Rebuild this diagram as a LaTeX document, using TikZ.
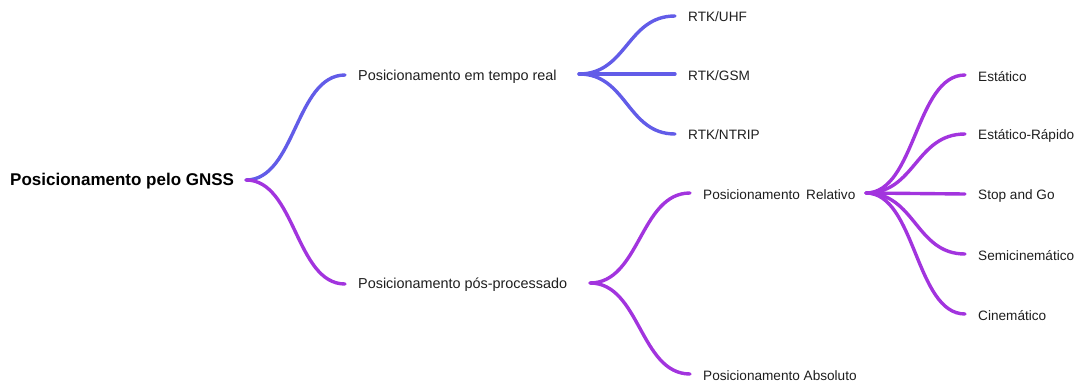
\documentclass[tikz,border=0pt]{standalone}
\usepackage{fontspec}
\setmainfont{Liberation Sans}
\usetikzlibrary{calc}
\definecolor{rtblue}{RGB}{98,92,232}
\definecolor{ppurple}{RGB}{162,52,222}
\definecolor{txt}{RGB}{30,30,30}
\tikzset{
  lbl/.style={anchor=west, inner sep=0pt, text=txt, font=\fontsize{13.6}{16}\selectfont},
  midlbl/.style={lbl, font=\fontsize{14.4}{17}\selectfont},
  rootlbl/.style={anchor=west, inner sep=0pt, text=black, font=\bfseries\fontsize{17}{20}\selectfont},
  branch/.style={line width=3.4pt, line cap=round},
}
% S-shaped link with horizontal tangents at both ends
\newcommand{\slink}[3]{%
  \draw[branch,#1] (#2) .. controls ($(#2)!0.5!(#2-|#3)$) and ($(#3)!0.5!(#3-|#2)$) .. (#3);}
\begin{document}
\begin{tikzpicture}[x=1pt,y=-1pt]
\useasboundingbox (0,0) rectangle (1076,383);
% labels
\node[rootlbl] (root) at (10,181) {Posicionamento pelo GNSS};
\node[midlbl] (rt) at (358,77) {Posicionamento em tempo real};
\node[midlbl] (pp) at (358,285) {Posicionamento pós-processado};
\node[lbl] (uhf) at (688,17) {RTK/UHF};
\node[lbl] (gsm) at (688,76) {RTK/GSM};
\node[lbl] (ntrip) at (688,135) {RTK/NTRIP};
\node[lbl] (rel) at (703,195) {Posicionamento\hspace{2.5pt} Relativo};
\node[lbl] (abs) at (703,376) {Posicionamento Absoluto};
\node[lbl] (est) at (978,77) {Estático};
\node[lbl] (estr) at (978,136) {Estático-Rápido};
\node[lbl] (sg) at (978,196) {Stop and Go};
\node[lbl] (semi) at (978,256) {Semicinemático};
\node[lbl] (cin) at (978,316) {Cinemático};
% anchor points of the links
\coordinate (r0) at (246,180);
\coordinate (r1) at (345,75);
\coordinate (r2) at (345,284);
\coordinate (a0) at (579,74);
\coordinate (a1) at (675,16);
\coordinate (a2) at (675,74);
\coordinate (a3) at (675,134);
\coordinate (b0) at (590,283);
\coordinate (b1) at (690,193);
\coordinate (b2) at (690,374);
\coordinate (c0) at (866,193);
\coordinate (c1) at (965,75);
\coordinate (c2) at (965,134);
\coordinate (c3) at (965,194);
\coordinate (c4) at (965,254);
\coordinate (c5) at (965,314);
% links
\slink{rtblue}{r0}{r1}
\slink{ppurple}{r0}{r2}
\slink{rtblue}{a0}{a1}
\slink{rtblue}{a0}{a2}
\slink{rtblue}{a0}{a3}
\slink{ppurple}{b0}{b1}
\slink{ppurple}{b0}{b2}
\slink{ppurple}{c0}{c1}
\slink{ppurple}{c0}{c2}
\slink{ppurple}{c0}{c3}
\slink{ppurple}{c0}{c4}
\slink{ppurple}{c0}{c5}
\end{tikzpicture}
\end{document}
